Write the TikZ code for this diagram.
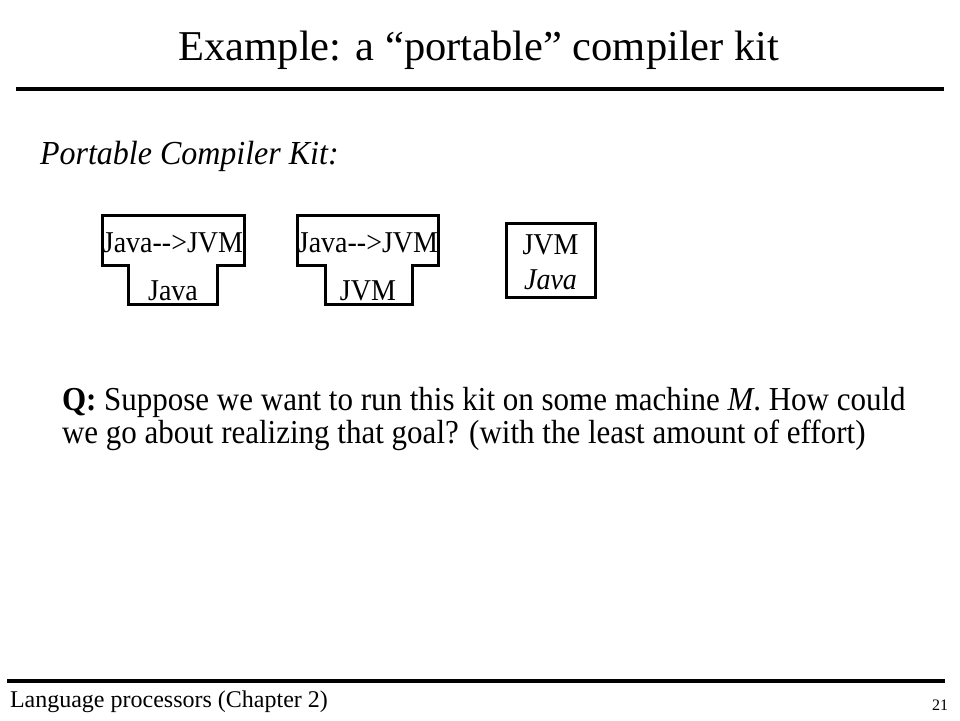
\documentclass[tikz,border=0pt]{standalone}
\usepackage{fontspec}
\setmainfont{Liberation Serif}
\newcommand{\tallr}[1]{\scalebox{1}[1.08]{#1}}
\begin{document}
\begin{tikzpicture}[x=1pt,y=-1pt,
  rulel/.style={line width=3.5pt},
  tbox/.style={line width=3pt,line join=miter},
  txt/.style={inner sep=0pt,outer sep=0pt},
  lab/.style={inner sep=0pt,font=\fontsize{28}{28}\selectfont}]
\useasboundingbox (0,0) rectangle (960,720);
\fill[white] (0,0) rectangle (960,720);
% title
\node[txt,anchor=base,font=\fontsize{42.5}{42.5}\selectfont] (title) at (479,60) {Example: a “portable” compiler kit};
\coordinate (tl) at (16,89);
\coordinate (tr) at (944,89);
\draw[rulel] (tl) -- (tr);
% subtitle
\node[txt,anchor=base west,font=\fontsize{32}{32}\selectfont\itshape] (kit) at (40,164) {\scalebox{1}[1.05]{Portable Compiler Kit:}};
% T-diagram 1
\draw[tbox] (102,215) -- (244,215) -- (244,265) -- (217,265) -- (217,304) -- (128,304) -- (128,265) -- (102,265) -- cycle;
\node[lab,anchor=base] (t1a) at (173,252) {\tallr{Java{-}{-}>JVM}};
\node[lab,anchor=base] (t1b) at (173,300) {\tallr{Java}};
% T-diagram 2
\draw[tbox] (297,215) -- (438,215) -- (438,265) -- (412,265) -- (412,304) -- (325,304) -- (325,265) -- (297,265) -- cycle;
\node[lab,anchor=base] (t2a) at (368,252) {\tallr{Java{-}{-}>JVM}};
\node[lab,anchor=base] (t2b) at (368,300) {\tallr{JVM}};
% interpreter box
\node[draw,line width=3pt,minimum width=89pt,minimum height=74pt,inner sep=0pt] (jvm) at (550.5,260) {};
\node[lab,anchor=base] (j1) at (550.5,254) {\tallr{JVM}};
\node[lab,anchor=base,font=\fontsize{28}{28}\selectfont\itshape] (j2) at (550.5,289) {\tallr{Java}};
% question
\node[txt,anchor=base west,font=\fontsize{31}{31}\selectfont] (q1) at (62,410) {\tallr{\textbf{Q:} Suppose we want to run this kit on some machine \textit{M}. How could}};
\node[txt,anchor=base west,font=\fontsize{31}{31}\selectfont] (q2) at (62,443) {\tallr{we go about realizing that goal? (with the least amount of effort)}};
% footer
\coordinate (bl) at (7,681);
\coordinate (br) at (945,681);
\draw[rulel] (bl) -- (br);
\node[txt,anchor=base west,font=\fontsize{24}{24}\selectfont] (foot) at (10,707) {Language processors (Chapter 2)};
\node[txt,anchor=base east,font=\fontsize{16}{16}\selectfont] (page) at (948,710) {21};
\end{tikzpicture}
\end{document}
